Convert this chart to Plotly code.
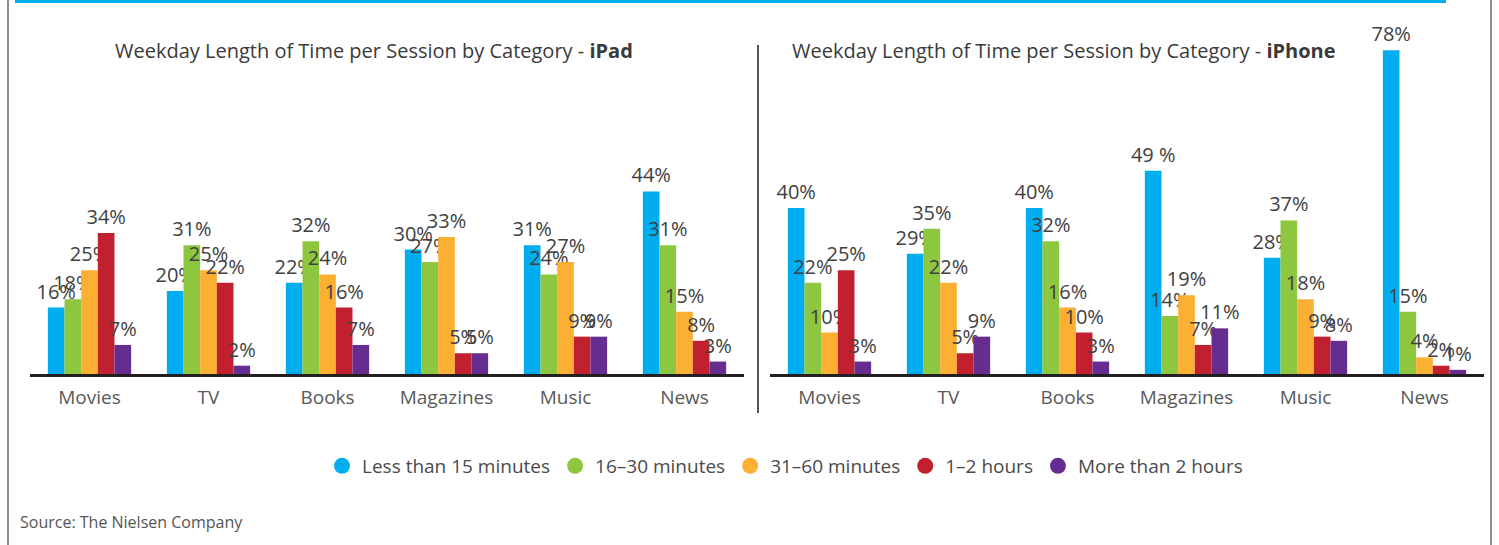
import plotly.graph_objects as go

W, H = 1499, 545

categories = ["Movies", "TV", "Books", "Magazines", "Music", "News"]
series_names = ["Less than 15 minutes", "16–30 minutes", "31–60 minutes", "1–2 hours", "More than 2 hours"]
colors = ["#00aeef", "#8dc63f", "#fbb034", "#c1202f", "#662d91"]

ipad_less15 = [16, 20, 22, 30, 31, 44]
ipad_16_30 = [18, 31, 32, 27, 24, 31]
ipad_31_60 = [25, 25, 24, 33, 27, 15]
ipad_1_2h = [34, 22, 16, 5, 9, 8]
ipad_more2h = [7, 2, 7, 5, 9, 3]

iphone_less15 = [40, 29, 40, 49, 28, 78]
iphone_16_30 = [22, 35, 32, 14, 37, 15]
iphone_31_60 = [10, 22, 16, 19, 18, 4]
iphone_1_2h = [25, 5, 10, 7, 9, 2]
iphone_more2h = [3, 9, 3, 11, 8, 1]

ipad_series = [ipad_less15, ipad_16_30, ipad_31_60, ipad_1_2h, ipad_more2h]
iphone_series = [iphone_less15, iphone_16_30, iphone_31_60, iphone_1_2h, iphone_more2h]

# label as printed in the source (one label has a space)
label_overrides = {("iphone", 0, "Magazines"): "49 %"}

title_ipad = "Weekday Length of Time per Session by Category - <b>iPad</b>"
title_iphone = "Weekday Length of Time per Session by Category - <b>iPhone</b>"
source_text = "Source: The Nielsen Company"

LABEL_FONT = dict(family="Open Sans", size=20, color="#404040")

fig = go.Figure()


def labels(device, si, vals):
    out = []
    for c, v in zip(categories, vals):
        out.append(label_overrides.get((device, si, c), f"{v}%"))
    return out


for si, (name, col) in enumerate(zip(series_names, colors)):
    fig.add_trace(go.Bar(
        x=categories, y=ipad_series[si], name=name, marker_color=col,
        marker_line_width=0, text=labels("ipad", si, ipad_series[si]),
        textposition="outside", textfont=LABEL_FONT, constraintext="none",
        cliponaxis=False, showlegend=False, xaxis="x", yaxis="y",
        hoverinfo="skip"))
for si, (name, col) in enumerate(zip(series_names, colors)):
    fig.add_trace(go.Bar(
        x=categories, y=iphone_series[si], name=name, marker_color=col,
        marker_line_width=0, text=labels("iphone", si, iphone_series[si]),
        textposition="outside", textfont=LABEL_FONT, constraintext="none",
        cliponaxis=False, showlegend=False, xaxis="x2", yaxis="y2",
        hoverinfo="skip"))
# legend entries with round markers
for name, col in zip(series_names, colors):
    fig.add_trace(go.Scatter(
        x=[None], y=[None], mode="markers", name=name,
        marker=dict(symbol="circle", size=16, color=col),
        xaxis="x", yaxis="y", showlegend=True))

y_bottom = (H - 374) / H
px_per_pct = 4.15
y_max = 85
y_top = y_bottom + y_max * px_per_pct / H

xcommon = dict(
    type="category", range=[-0.5, 5.5], showline=True, linecolor="#231f20",
    linewidth=3, showgrid=False, zeroline=False, ticks="outside", ticklen=4,
    tickcolor="rgba(0,0,0,0)",
    tickfont=dict(family="Open Sans", size=19, color="#595959"),
)
ycommon = dict(range=[0, y_max], domain=[y_bottom, y_top], visible=False,
               showgrid=False, zeroline=False)

fig.update_layout(
    width=W, height=H,
    margin=dict(l=0, r=0, t=0, b=0),
    paper_bgcolor="white", plot_bgcolor="white",
    barmode="group", bargap=0.30, bargroupgap=0,
    xaxis=dict(domain=[30 / W, 744 / W], anchor="y", **xcommon),
    xaxis2=dict(domain=[770 / W, 1484 / W], anchor="y2", **xcommon),
    yaxis=dict(anchor="x", **ycommon),
    yaxis2=dict(anchor="x2", **ycommon),
    showlegend=True,
    legend=dict(orientation="h", x=785 / W, xanchor="center",
                y=(H - 466) / H, yanchor="middle",
                font=dict(family="Open Sans", size=19, color="#4a4a4a"),
                itemsizing="trace", bgcolor="rgba(0,0,0,0)"),
    hovermode=False,
    annotations=[
        dict(text=title_ipad, x=113 / W, y=(H - 51) / H, xref="paper", yref="paper",
             xanchor="left", yanchor="middle", showarrow=False,
             font=dict(family="Open Sans", size=20, color="#3a3a3a")),
        dict(text=title_iphone, x=790 / W, y=(H - 51) / H, xref="paper", yref="paper",
             xanchor="left", yanchor="middle", showarrow=False,
             font=dict(family="Open Sans", size=20, color="#3a3a3a")),
        dict(text=source_text, x=18 / W, y=(H - 522) / H, xref="paper", yref="paper",
             xanchor="left", yanchor="middle", showarrow=False,
             font=dict(family="Open Sans", size=16, color="#555555")),
    ],
    shapes=[
        dict(type="rect", xref="paper", yref="paper", x0=15 / W, x1=1446 / W,
             y0=1 - 3 / H, y1=1, fillcolor="#00aeef", line_width=0),
        dict(type="line", xref="paper", yref="paper", x0=8 / W, x1=8 / W,
             y0=0, y1=1, line=dict(color="#8a8a8a", width=2)),
        dict(type="line", xref="paper", yref="paper", x0=1491 / W, x1=1491 / W,
             y0=0, y1=1, line=dict(color="#8e8e8e", width=2)),
        dict(type="line", xref="paper", yref="paper", x0=758 / W, x1=758 / W,
             y0=(H - 413) / H, y1=(H - 45) / H, line=dict(color="#555555", width=2)),
    ],
)

fig.write_html(
    "out.html",
    config={"displayModeBar": False},
    post_script="document.body.style.margin='0';document.body.style.overflow='hidden';",
)
